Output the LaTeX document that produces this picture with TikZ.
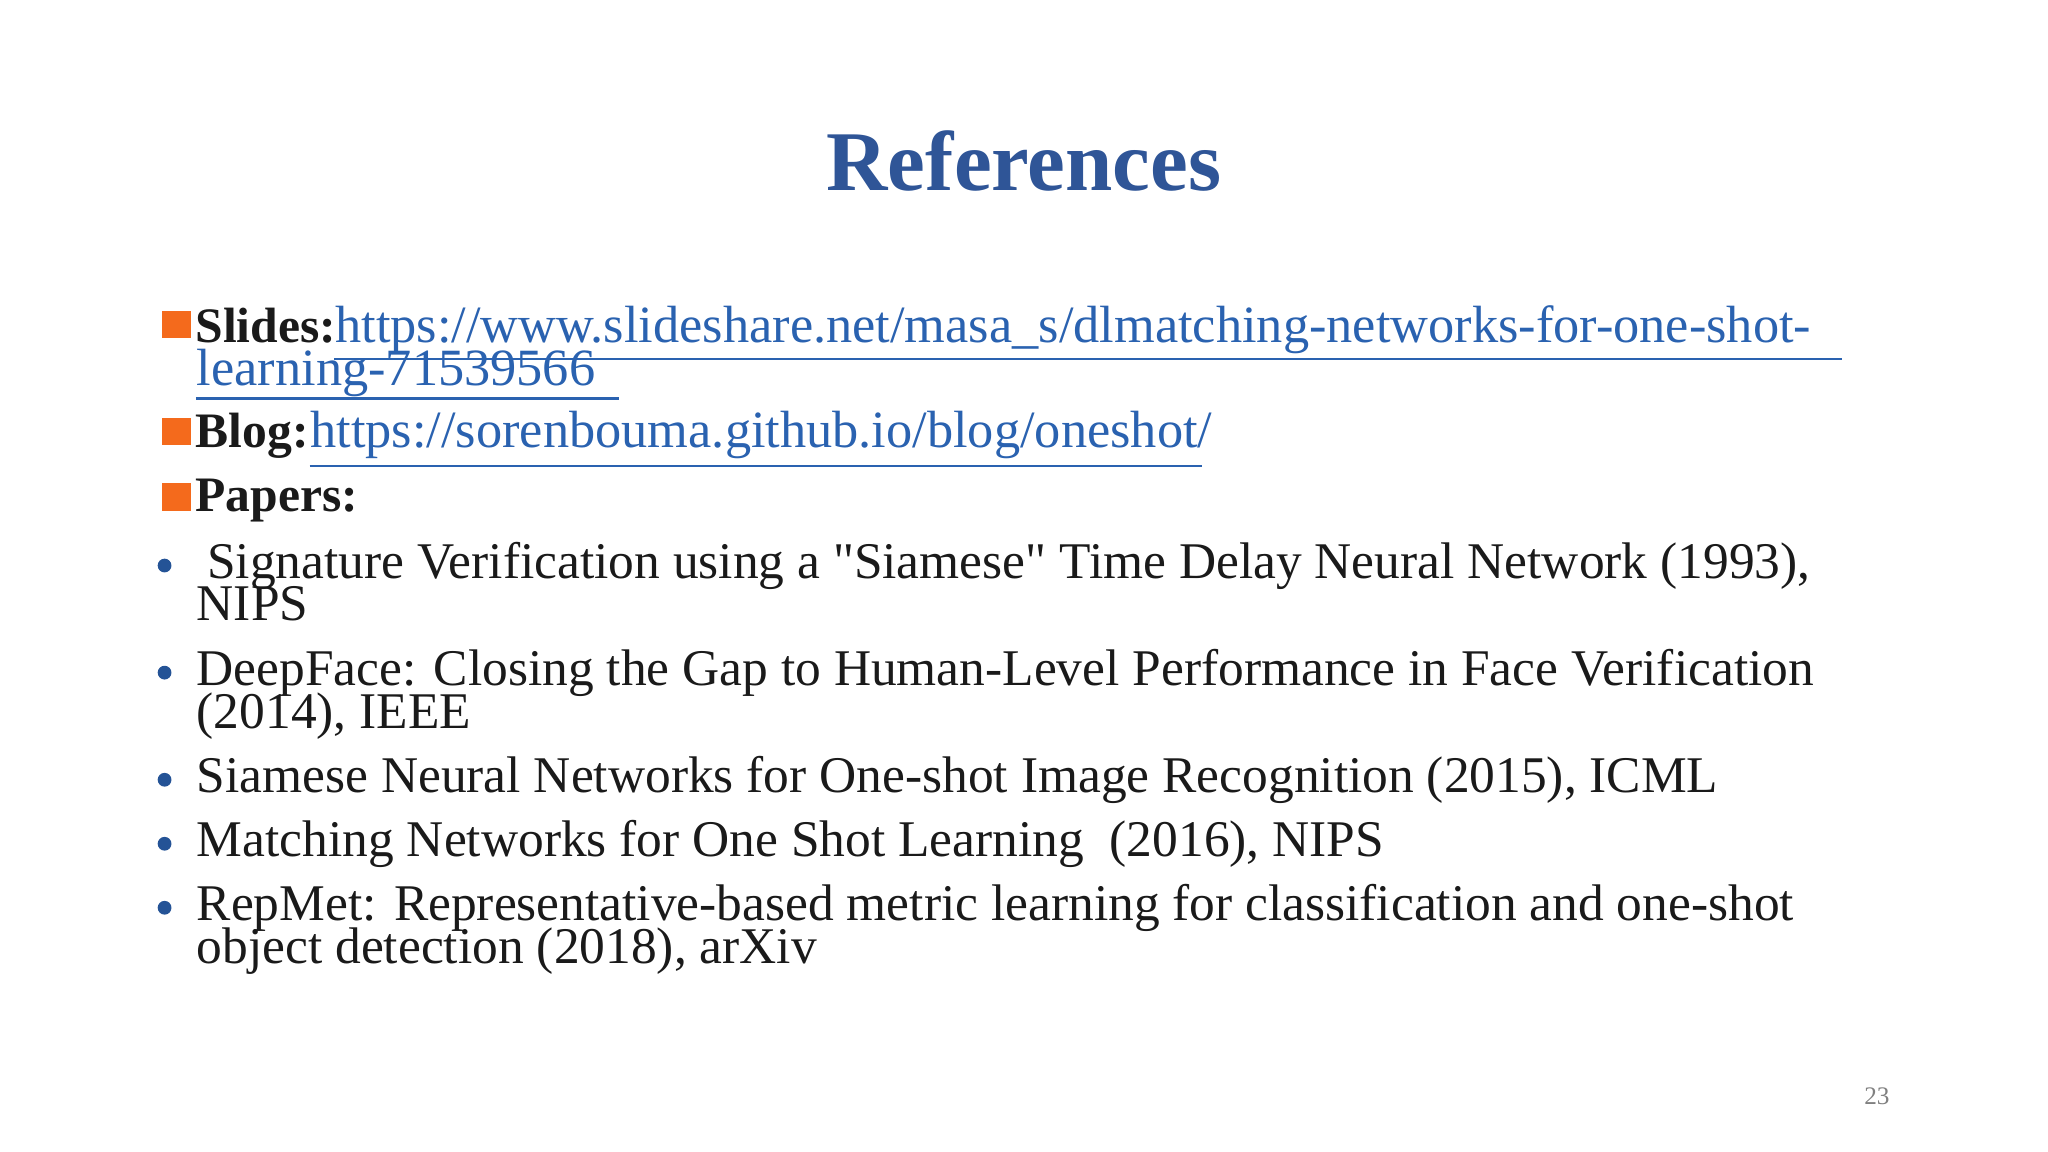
\documentclass[tikz,border=0pt]{standalone}
\usepackage{fontspec}
\setmainfont[Ligatures=TeXOff]{Liberation Serif}
\definecolor{ttl}{HTML}{2F5597}
\definecolor{lnk}{HTML}{2A62B0}
\definecolor{org}{HTML}{F46A1C}
\definecolor{txt}{HTML}{1A1A1A}
\begin{document}
\begin{tikzpicture}[x=0.01cm,y=-0.01cm,
  body/.style={anchor=base west,inner sep=0,font=\fontsize{11.2}{12}\selectfont,text=txt},
  hd/.style={body,font=\fontsize{10.8}{12}\selectfont\bfseries},
  link/.style={body,font=\fontsize{11.4}{12}\selectfont,text=lnk},
  ul/.style={lnk,line width=0.5pt},
  sq/.style={fill=org},
  dot/.style={circle,fill=lnk!85!black,inner sep=0,minimum size=3pt}]
\useasboundingbox (0,0) rectangle (1568,882);
\node[anchor=base,inner sep=0,font=\fontsize{18.5}{22}\selectfont\bfseries,text=ttl] (title) at (784,146) {References};
% Slides
\fill[sq] (124,238) rectangle (146,259);
\node[hd] (s) at (149,262) {Slides:};
\node[link] (s1) at (256,262) {https://www.slideshare.net/masa\_s/dlmatching-networks-for-one-shot-};
\node[link] (s2) at (150,295) {learning-71539566};
\draw[ul] (256,275) -- (1410,275);
\draw[ul] (150,305) -- (474,305);
% Blog
\fill[sq] (124,320) rectangle (146,341);
\node[hd] (b) at (149,343) {Blog:};
\node[link] (b1) at (237,343) {https://sorenbouma.github.io/blog/oneshot/};
\draw[ul] (237,357) -- (920,357);
% Papers
\fill[sq] (124,370) rectangle (146,391);
\node[hd] (p) at (149,392) {Papers:};
% bullets
\foreach \y/\n in {433/d1,515/d2,597/d3,646/d4,695/d5} \node[dot] (\n) at (126,\y) {};
\node[body] (r1) at (158,443) {Signature Verification using a "Siamese" Time Delay Neural Network (1993),};
\node[body] (r1b) at (150,475) {NIPS};
\node[body] (r2) at (150,525) {DeepFace: Closing the Gap to Human-Level Performance in Face Verification};
\node[body] (r2b) at (150,558) {(2014), IEEE};
\node[body] (r3) at (150,607) {Siamese Neural Networks for One-shot Image Recognition (2015), ICML};
\node[body] (r4) at (150,656) {Matching Networks for One Shot Learning \ (2016), NIPS};
\node[body] (r5) at (150,705) {RepMet: Representative-based metric learning for classification and one-shot};
\node[body] (r5b) at (150,738) {object detection (2018), arXiv};
\node[anchor=base,inner sep=0,font=\fontsize{5.5}{6}\selectfont,text=gray] (pg) at (1437,846) {23};
\end{tikzpicture}
\end{document}
